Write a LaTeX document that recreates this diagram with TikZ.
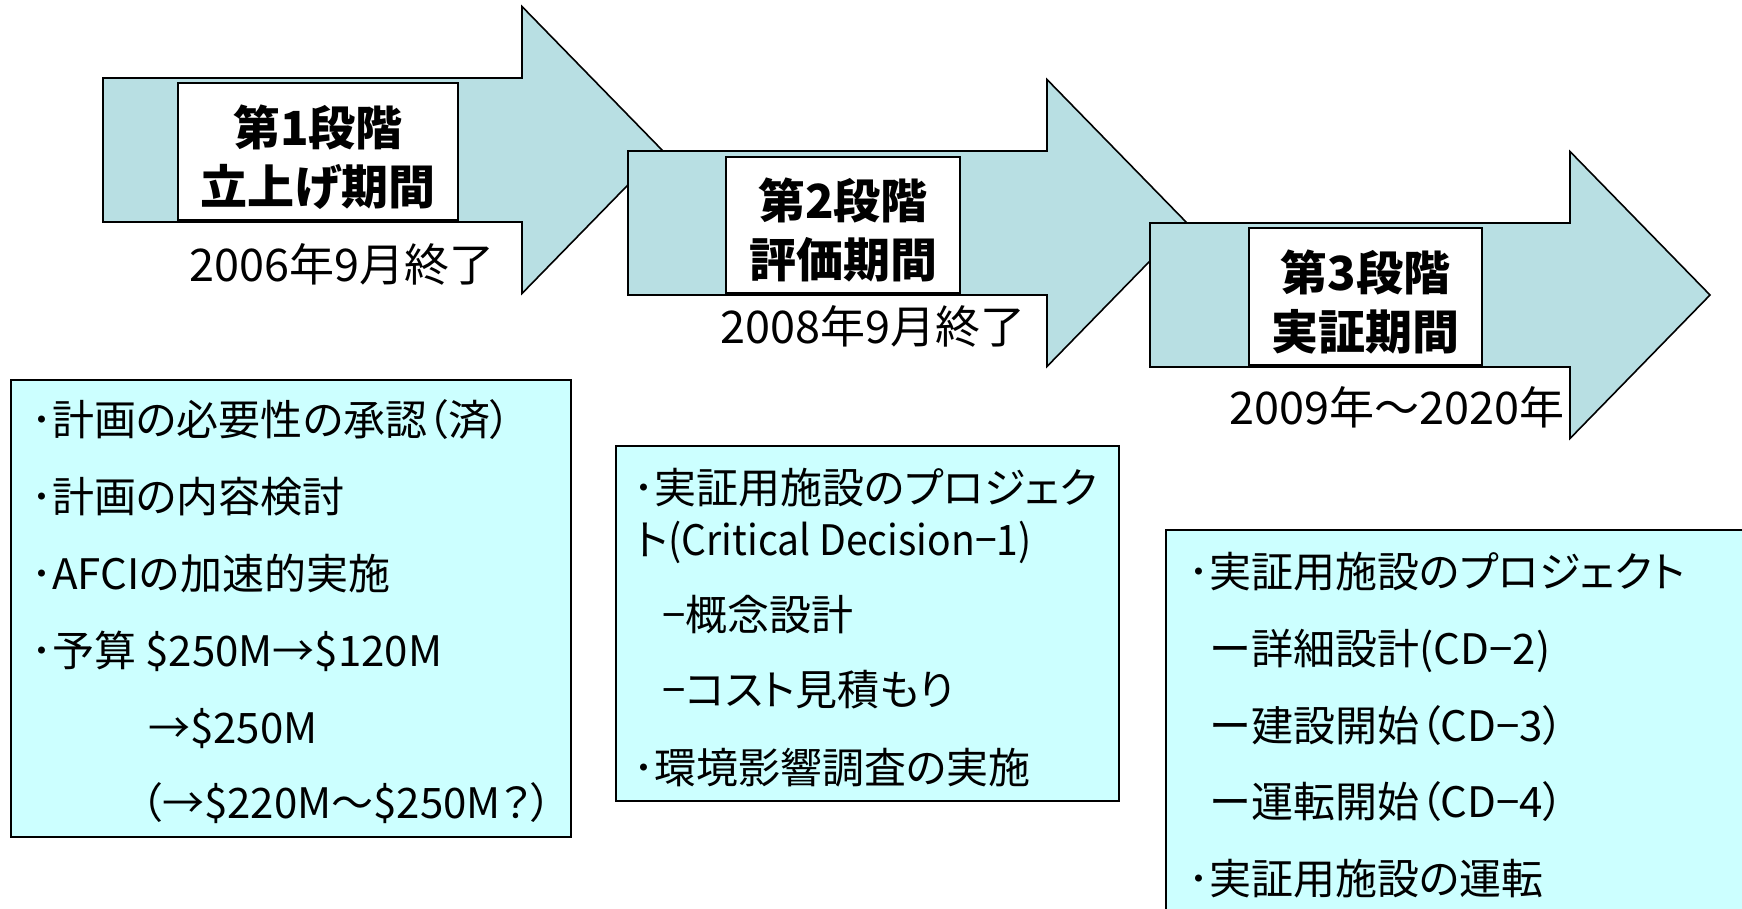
\documentclass[tikz,border=0pt]{standalone}
\usepackage{fontspec}
\setmainfont{Noto Sans CJK JP}[RawFeature=+palt]
\definecolor{arrowfill}{RGB}{184,223,227}
\definecolor{boxfill}{RGB}{204,255,255}
\begin{document}
\begin{tikzpicture}[x=1pt,y=-1pt,
  arrowshape/.style={draw=black, line width=1.6pt, fill=arrowfill, line join=miter},
  whitebox/.style={draw=black, line width=1.6pt, fill=white, inner sep=0pt},
  titletext/.style={align=center, inner sep=0pt, font=\fontsize{47pt}{59pt}\selectfont\bfseries},
  datetext/.style={inner sep=0pt, font=\fontsize{45pt}{52pt}\selectfont},
  infobox/.style={draw=black, line width=1.6pt, fill=boxfill},
  boxtext/.style={anchor=base west, inner sep=0pt, font=\fontsize{42pt}{50pt}\selectfont}]
\useasboundingbox (0,0) rectangle (1742,908);
\clip (0,0) rectangle (1742,908);
\fill[white] (0,0) rectangle (1742,908);

% Arrow 1
\draw[arrowshape] (103,78) -- (522,78) -- (522,6.5) -- (662,150) -- (522,293.5) -- (522,222) -- (103,222) -- cycle;
\node[whitebox, minimum width=280pt, minimum height=137pt] (w1) at (318,151.5) {};
\node[titletext] (t1) at (318,157) {第1段階\\立上げ期間};
\node[datetext] (d1) at (342,264) {2006年9月終了};

% Arrow 2
\draw[arrowshape] (628,151) -- (1047,151) -- (1047,79.5) -- (1187,223) -- (1047,366.5) -- (1047,295) -- (628,295) -- cycle;
\node[whitebox, minimum width=234pt, minimum height=136pt] (w2) at (843,225) {};
\node[titletext] (t2) at (843,230) {第2段階\\評価期間};
\node[datetext] (d2) at (873,326) {2008年9月終了};

% Arrow 3
\draw[arrowshape] (1150,223) -- (1570,223) -- (1570,151.5) -- (1710,295) -- (1570,438.5) -- (1570,367) -- (1150,367) -- cycle;
\node[whitebox, minimum width=233pt, minimum height=137pt] (w3) at (1365.5,296.5) {};
\node[titletext] (t3) at (1365.5,302) {第3段階\\実証期間};
\node[datetext] (d3) at (1397,407) {2009年～2020年};

% Box 1
\draw[infobox] (11,380) rectangle (571,837);
\node[boxtext] (b1a) at (31,435) {･計画の必要性の承認（済）};
\node[boxtext] (b1b) at (31,512) {･計画の内容検討};
\node[boxtext] (b1c) at (31,589) {･AFCIの加速的実施};
\node[boxtext] (b1d) at (31,666) {･予算 \$250M→\$120M};
\node[boxtext] (b1e) at (148,743) {→\$250M};
\node[boxtext] (b1f) at (141,818) {（→\$220M～\$250M？）};

% Box 2
\draw[infobox] (616,446) rectangle (1119,801);
\node[boxtext] (b2a) at (633,503) {･実証用施設のプロジェク};
\node[boxtext] (b2b) at (636,555) {ト{\addfontfeature{FakeStretch=0.93}(Critical Decision−1)}};
\node[boxtext] (b2c) at (662,630) {−概念設計};
\node[boxtext] (b2d) at (662,705) {−コスト見積もり};
\node[boxtext] (b2e) at (633,783) {･環境影響調査の実施};

% Box 3
\draw[infobox] (1166,530) rectangle (1770,940);
\node[boxtext] (b3a) at (1188,587) {･実証用施設のプロジェクト};
\node[boxtext] (b3b) at (1210,664) {ー詳細設計(CD−2)};
\node[boxtext] (b3c) at (1210,741) {ー建設開始（CD−3）};
\node[boxtext] (b3d) at (1210,817) {ー運転開始（CD−4）};
\node[boxtext] (b3e) at (1188,894) {･実証用施設の運転};
\end{tikzpicture}
\end{document}
